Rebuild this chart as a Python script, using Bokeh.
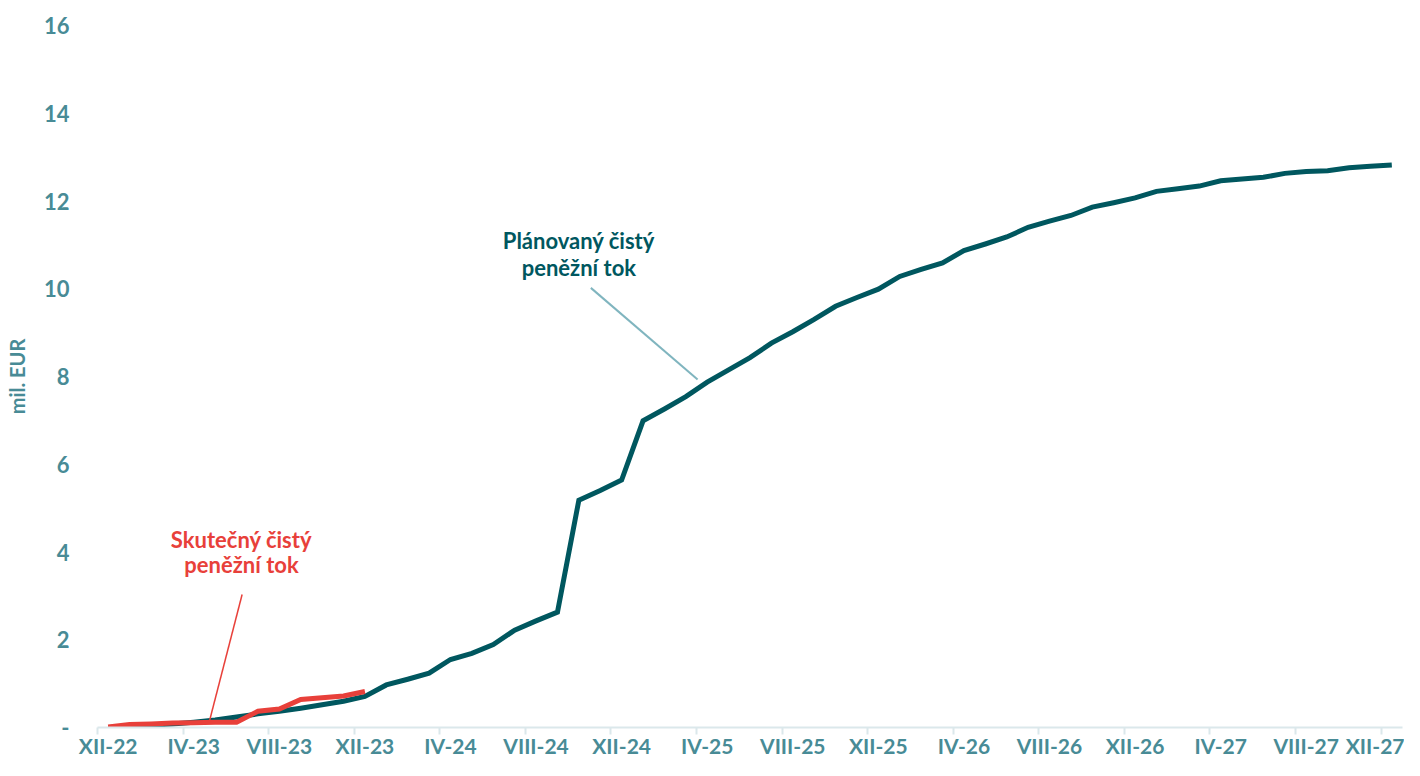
from bokeh.plotting import figure
from bokeh.models import Range1d, FixedTicker, Label
from bokeh.embed import file_html
from bokeh.resources import INLINE

# ---- data (monthly, XII-22 .. XII-27), mil. EUR ----
tick_labels = ["XII-22", "IV-23", "VIII-23", "XII-23", "IV-24", "VIII-24", "XII-24", "IV-25",
               "VIII-25", "XII-25", "IV-26", "VIII-26", "XII-26", "IV-27", "VIII-27", "XII-27"]

planned = [0.00, 0.01, 0.05, 0.08, 0.12, 0.17, 0.24, 0.31, 0.37, 0.44, 0.52, 0.60, 0.71,
           0.97, 1.10, 1.24, 1.55, 1.69, 1.89, 2.22, 2.43, 2.63, 5.18, 5.40, 5.64, 6.99, 7.26, 7.54,
           7.87, 8.15, 8.43, 8.76, 9.02, 9.30, 9.60, 9.80, 9.99, 10.28, 10.44, 10.59, 10.87, 11.02, 11.18,
           11.40, 11.54, 11.67, 11.86, 11.96, 12.07, 12.22, 12.28, 12.34, 12.46, 12.50, 12.54, 12.63,
           12.67, 12.69, 12.76, 12.79, 12.82]

actual = [0.01, 0.07, 0.08, 0.10, 0.11, 0.12, 0.12, 0.37, 0.42, 0.64, 0.68, 0.72, 0.82]

y_ticks = [0, 2, 4, 6, 8, 10, 12, 14, 16]

label_planned = ["Plánovaný čistý", "peněžní tok"]
label_actual = ["Skutečný čistý", "peněžní tok"]

# ---- styling ----
TEAL = "#00575f"
RED = "#e8403a"
AXIS_TXT = "#488b96"
AXIS_LINE = "#dbe8eb"
LEADER_TEAL = "#80b5bf"
FONT = "Lato"

n = len(planned)
x_planned = list(range(n))
x_actual = list(range(len(actual)))

p = figure(width=1404, height=760,
           x_range=Range1d(-0.5, n - 0.5), y_range=Range1d(0, 16),
           output_backend="svg", toolbar_location=None,
           min_border_left=97, min_border_right=2, min_border_top=25, min_border_bottom=29)
p.outline_line_color = None
p.grid.visible = False
p.background_fill_color = "white"
p.border_fill_color = "white"

# x axis: labels at category centres, tick marks at category boundaries (every 4 months)
centres = list(range(0, n, 4))
p.xaxis.ticker = FixedTicker(ticks=centres, minor_ticks=[c - 0.5 for c in centres])
p.xaxis.major_label_overrides = {c: lab for c, lab in zip(centres, tick_labels)}
p.xaxis.major_tick_line_color = None
p.xaxis.major_tick_out = 0
p.xaxis.major_tick_in = 0
p.xaxis.minor_tick_line_color = AXIS_LINE
p.xaxis.minor_tick_line_width = 2
p.xaxis.minor_tick_out = 7
p.xaxis.minor_tick_in = 0
p.xaxis.axis_line_color = AXIS_LINE
p.xaxis.axis_line_width = 2
p.xaxis.major_label_text_font = FONT
p.xaxis.major_label_text_font_style = "bold"
p.xaxis.major_label_text_font_size = "21px"
p.xaxis.major_label_text_line_height = 0.9
p.xaxis.major_label_text_color = AXIS_TXT
p.xaxis.major_label_standoff = -2

# y axis
p.yaxis.ticker = FixedTicker(ticks=y_ticks)
p.yaxis.major_label_overrides = {0: "-"}
p.yaxis.axis_line_color = None
p.yaxis.major_tick_line_color = None
p.yaxis.minor_tick_line_color = None
p.yaxis.major_tick_out = 0
p.yaxis.major_tick_in = 0
p.yaxis.major_label_standoff = 28
p.yaxis.major_label_text_font = FONT
p.yaxis.major_label_text_font_style = "bold"
p.yaxis.major_label_text_font_size = "22px"
p.yaxis.major_label_text_color = AXIS_TXT
p.yaxis.axis_label = "mil. EUR"
p.yaxis.axis_label_text_font = FONT
p.yaxis.axis_label_text_font_style = "bold"
p.yaxis.axis_label_text_font_size = "20px"
p.yaxis.axis_label_text_color = AXIS_TXT
p.yaxis.axis_label_standoff = 12

# lines
p.line(x_planned, planned, line_color=TEAL, line_width=5, line_join="miter")
p.line(x_actual, actual, line_color=RED, line_width=5, line_join="miter")

# annotations (data-space positions of labels and leader lines)
ann_planned_xy = (22.0, 11.10, 10.49)
ann_planned_leader = ([22.56, 27.55], [10.02, 7.93])
ann_actual_xy = (6.23, 4.29, 3.71)
ann_actual_leader = ([6.26, 4.74], [3.03, 0.16])

p.line(ann_planned_leader[0], ann_planned_leader[1], line_color=LEADER_TEAL, line_width=2)
p.line(ann_actual_leader[0], ann_actual_leader[1], line_color=RED, line_width=1.5)

for txt, yy in zip(label_planned, ann_planned_xy[1:]):
    p.add_layout(Label(x=ann_planned_xy[0], y=yy, text=txt, text_align="center",
                       text_baseline="middle", text_font=FONT, text_font_style="bold",
                       text_font_size="22px", text_color=TEAL))
for txt, yy in zip(label_actual, ann_actual_xy[1:]):
    p.add_layout(Label(x=ann_actual_xy[0], y=yy, text=txt, text_align="center",
                       text_baseline="middle", text_font=FONT, text_font_style="bold",
                       text_font_size="22px", text_color=RED))

open("out.html", "w").write(file_html(p, INLINE))
